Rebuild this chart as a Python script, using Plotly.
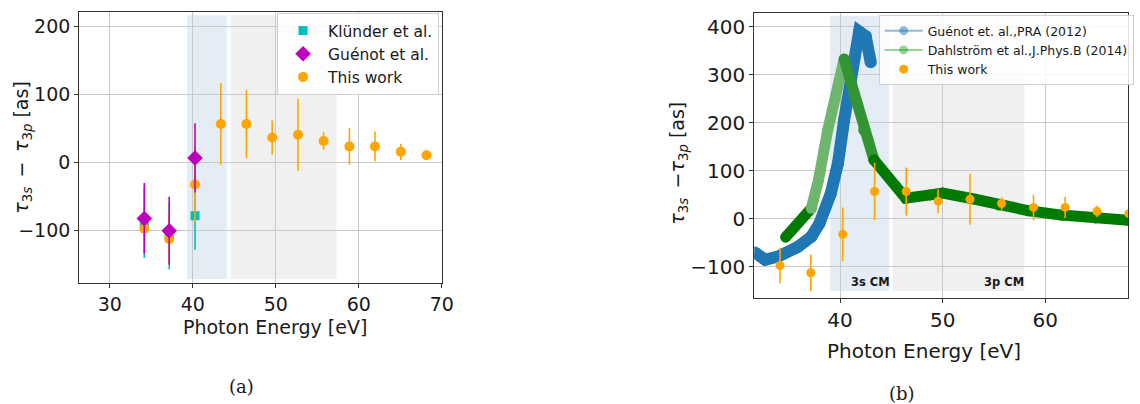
import plotly.graph_objects as go

# ---- measured 3s-3p delay (this work) ----
energy = [34.15, 37.15, 40.26, 43.37, 46.45, 49.56, 52.67, 55.75, 58.86, 61.94, 65.05, 68.15]
delay = [-97, -112, -32, 57, 57, 37, 41, 32, 24, 24, 16, 11]
delay_err = [37, 38, 56, 60, 50, 25, 53, 13, 27, 22, 12, 5]

# ---- earlier measurements ----
klunder_energy = [34.15, 37.15, 40.26]
klunder_delay = [-88, -108, -78]
klunder_err = [52, 49, 50]

guenot_energy = [34.15, 37.15, 40.26]
guenot_delay = [-82, -100, 7]
guenot_err = [52, 50, 51]

# ---- theory curves ----
guenot_th_energy = [31.7, 32.7, 34.0, 35.9, 37.2, 38.0, 39.1, 39.8, 40.4, 41.06, 41.86, 42.5, 42.99]
guenot_th_delay = [-70, -85, -78, -58, -37, -9, 53, 116, 206, 300, 390, 380, 326]

dahl_energy = [34.7, 37.2, 37.9, 38.8, 39.6, 40.4, 41.4, 42.3, 43.3, 46.4, 48.8, 50.0,
               52.7, 55.5, 58.4, 61.6, 64.9, 68.1]
dahl_delay = [-38, 22, 81, 185, 254, 333, 254, 185, 123, 43, 50, 54, 43, 29, 17, 8, 2, -3]

# ---- Cooper-minimum regions (eV) ----
cm3s_a = [39.3, 44.1]
cm3p_a = [44.57, 57.3]
cm3s_b = [39.04, 44.79]
cm3p_b = [45.14, 57.96]

ORANGE = "rgb(255,165,0)"
CYAN = "rgb(0,191,191)"
MAGENTA = "rgb(191,0,191)"
BLUE = "rgb(31,119,180)"
TXT = "#1a1a1a"

fig = go.Figure()


def err(vals, color):
    return dict(type="data", array=vals, visible=True, color=color, thickness=1.6, width=0)


# ---------------- panel (a) ----------------
fig.add_trace(go.Scatter(
    x=klunder_energy, y=klunder_delay, mode="markers", name="Klünder et al.",
    marker=dict(symbol="square", size=9, color=CYAN),
    error_y=err(klunder_err, CYAN), xaxis="x", yaxis="y", legend="legend", legendrank=1))
fig.add_trace(go.Scatter(
    x=energy, y=delay, mode="markers", name="This work",
    marker=dict(symbol="circle", size=10, color=ORANGE),
    error_y=err(delay_err, ORANGE), xaxis="x", yaxis="y", legend="legend", legendrank=3))
fig.add_trace(go.Scatter(
    x=guenot_energy, y=guenot_delay, mode="markers", name="Guénot et al.",
    marker=dict(symbol="diamond", size=12, color=MAGENTA),
    error_y=err(guenot_err, MAGENTA), xaxis="x", yaxis="y", legend="legend", legendrank=2))

# ---------------- panel (b) ----------------
fig.add_trace(go.Scatter(
    x=guenot_th_energy, y=guenot_th_delay, mode="lines+markers", showlegend=False,
    line=dict(color=BLUE, width=12), marker=dict(size=12, color=BLUE),
    xaxis="x2", yaxis="y2", hoverinfo="skip"))

# Dahlström curve drawn in pieces: the steep parts have sparser theory points
segments = [(0, 2, "rgb(0,122,0)"), (1, 6, "rgb(110,182,110)"),
            (5, 9, "rgb(50,148,50)"), (8, len(dahl_energy), "rgb(0,122,0)")]
for i0, i1, col in segments:
    fig.add_trace(go.Scatter(
        x=dahl_energy[i0:i1], y=dahl_delay[i0:i1], mode="lines+markers", showlegend=False,
        line=dict(color=col, width=11), marker=dict(size=11, color=col),
        xaxis="x2", yaxis="y2", hoverinfo="skip"))

# legend entries for the theory curves
fig.add_trace(go.Scatter(
    x=[None], y=[None], mode="lines+markers", name="Guénot et. al.,PRA (2012)",
    line=dict(color="rgba(31,119,180,0.5)", width=2),
    marker=dict(size=9, color="rgba(31,119,180,0.5)"),
    xaxis="x2", yaxis="y2", legend="legend2"))
fig.add_trace(go.Scatter(
    x=[None], y=[None], mode="lines+markers", name="Dahlström et al.,J.Phys.B (2014)",
    line=dict(color="rgba(0,150,0,0.4)", width=2),
    marker=dict(size=9, color="rgba(0,150,0,0.4)"),
    xaxis="x2", yaxis="y2", legend="legend2"))
fig.add_trace(go.Scatter(
    x=energy, y=delay, mode="markers", name="This work",
    marker=dict(symbol="circle", size=9, color=ORANGE),
    error_y=err(delay_err, ORANGE), xaxis="x2", yaxis="y2", legend="legend2"))

# ---------------- shaded regions ----------------
shapes = []
for span, col in [(cm3s_a, "#e4ecf6"), (cm3p_a, "#f0f0f0")]:
    shapes.append(dict(type="rect", xref="x", yref="y", x0=span[0], x1=span[1],
                       y0=-171, y1=217, fillcolor=col, line=dict(width=0), layer="below"))
for span, col in [(cm3s_b, "#e4ecf6"), (cm3p_b, "#f0f0f0")]:
    shapes.append(dict(type="rect", xref="x2", yref="y2", x0=span[0], x1=span[1],
                       y0=-150, y1=423, fillcolor=col, line=dict(width=0), layer="below"))

axis_style = dict(
    showline=True, linecolor="#333333", linewidth=1, mirror=True,
    ticks="outside", ticklen=4, tickcolor="#333333", tickwidth=1,
    showgrid=True, gridcolor="#c9c9c9", gridwidth=1.2, zeroline=False,
    tickfont=dict(size=19, color=TXT),
)

W, H = 1140, 404

fig.update_layout(
    width=W, height=H, margin=dict(l=0, r=0, t=0, b=0),
    paper_bgcolor="white", plot_bgcolor="white",
    font=dict(family="DejaVu Sans", color=TXT),
    xaxis=dict(domain=[80 / W, 447 / W], range=[26.3, 70.05],
               tickvals=[30, 40, 50, 60, 70], anchor="y", **axis_style),
    yaxis=dict(domain=[(H - 283) / H, (H - 12) / H], range=[-176.9, 221.6],
               tickvals=[-100, 0, 100, 200], anchor="x", **axis_style),
    xaxis2=dict(domain=[762.3 / W, 1.0], range=[31.64, 68.07],
                tickvals=[40, 50, 60, 70], anchor="y2", **axis_style),
    yaxis2=dict(domain=[(H - 297.7) / H, (H - 12.7) / H], range=[-163.9, 429.1],
                tickvals=[-100, 0, 100, 200, 300, 400], anchor="x2", **axis_style),
    legend=dict(x=280 / W, y=(H - 13) / H, xanchor="left", yanchor="top",
                bgcolor="rgba(255,255,255,0.85)", bordercolor="#d0d0d0", borderwidth=1,
                itemwidth=40, font=dict(size=15.5, color=TXT)),
    legend2=dict(x=888 / W, y=(H - 15) / H, xanchor="left", yanchor="top",
                 bgcolor="rgba(255,255,255,0.85)", bordercolor="#d0d0d0", borderwidth=1,
                 itemwidth=38, font=dict(size=12.5, color=TXT)),
    shapes=shapes,
)
fig.update_layout(xaxis2_tickfont_size=20, yaxis2_tickfont_size=20)

ann = []
ann.append(dict(text="<i>τ</i><sub>3<i>s</i></sub>\u2002−\u2002<i>τ</i><sub>3<i>p</i></sub> [as]",
                x=22 / W, y=(H - 147) / H, xref="paper", yref="paper", textangle=-90,
                showarrow=False, font=dict(size=19, color=TXT), xanchor="center", yanchor="middle"))
ann.append(dict(text="<i>τ</i><sub>3<i>s</i></sub>\u2002−<i>τ</i><sub>3<i>p</i></sub> [as]",
                x=685 / W, y=(H - 163) / H, xref="paper", yref="paper", textangle=-90,
                showarrow=False, font=dict(size=19, color=TXT), xanchor="center", yanchor="middle"))
ann.append(dict(text="Photon Energy [eV]", x=278 / W, y=(H - 327) / H, xref="paper", yref="paper",
                showarrow=False, font=dict(size=19, color=TXT), xanchor="center", yanchor="middle"))
ann.append(dict(text="Photon Energy [eV]", x=934 / W, y=(H - 351) / H, xref="paper", yref="paper",
                showarrow=False, font=dict(size=20, color=TXT), xanchor="center", yanchor="middle"))
ann.append(dict(text="(a)", x=244 / W, y=(H - 386) / H, xref="paper", yref="paper",
                showarrow=False, font=dict(size=18, family="DejaVu Serif", color=TXT),
                xanchor="center", yanchor="middle"))
ann.append(dict(text="(b)", x=912 / W, y=(H - 393) / H, xref="paper", yref="paper",
                showarrow=False, font=dict(size=18, family="DejaVu Serif", color=TXT),
                xanchor="center", yanchor="middle"))
ann.append(dict(text="<b>3s CM</b>", x=42.99, y=-131, xref="x2", yref="y2", showarrow=False,
                font=dict(size=11.5, color=TXT), xanchor="center", yanchor="middle"))
ann.append(dict(text="<b>3p CM</b>", x=56.03, y=-131, xref="x2", yref="y2", showarrow=False,
                font=dict(size=11.5, color=TXT), xanchor="center", yanchor="middle"))
fig.update_layout(annotations=ann)

fig.write_html("out.html")
